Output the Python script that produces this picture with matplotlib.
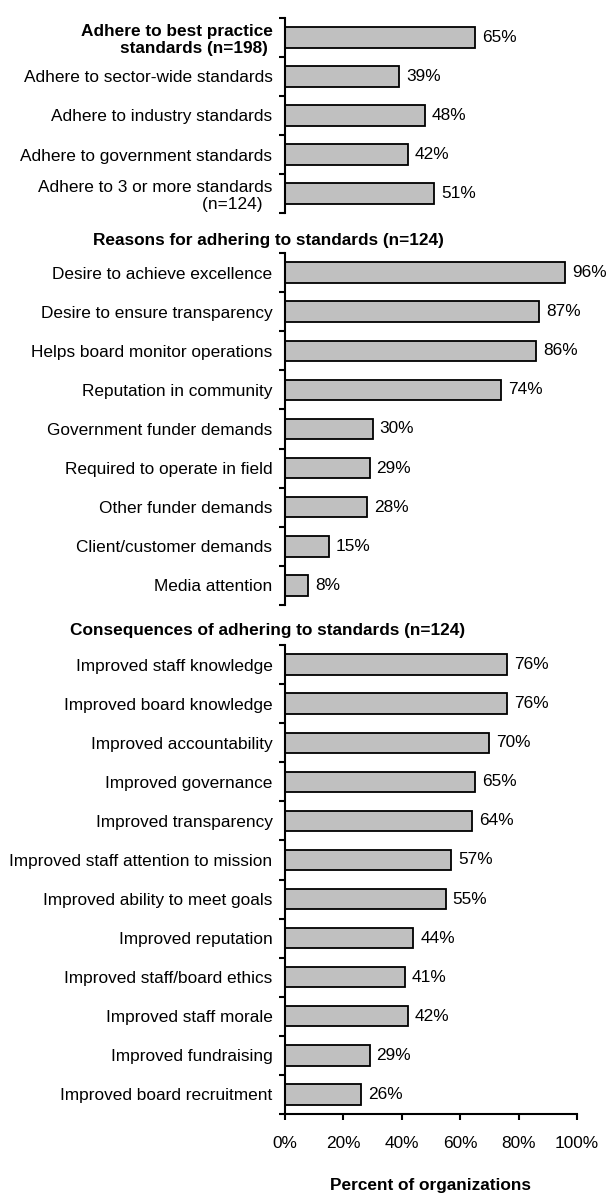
import numpy as np
import matplotlib.pyplot as plt
from matplotlib.ticker import FuncFormatter

plt.rcParams['font.family'] = ['Liberation Sans', 'DejaVu Sans']

adhere_labels = ["Adhere to best practice\nstandards (n=198) ",
                 "Adhere to sector-wide standards",
                 "Adhere to industry standards",
                 "Adhere to government standards",
                 "Adhere to 3 or more standards\n(n=124)  "]
adhere_values = [65, 39, 48, 42, 51]

reason_labels = ["Desire to achieve excellence",
                 "Desire to ensure transparency",
                 "Helps board monitor operations",
                 "Reputation in community",
                 "Government funder demands",
                 "Required to operate in field",
                 "Other funder demands",
                 "Client/customer demands",
                 "Media attention"]
reason_values = [96, 87, 86, 74, 30, 29, 28, 15, 8]

conseq_labels = ["Improved staff knowledge",
                 "Improved board knowledge",
                 "Improved accountability",
                 "Improved governance",
                 "Improved transparency",
                 "Improved staff attention to mission",
                 "Improved ability to meet goals",
                 "Improved reputation",
                 "Improved staff/board ethics",
                 "Improved staff morale",
                 "Improved fundraising",
                 "Improved board recruitment"]
conseq_values = [76, 76, 70, 65, 64, 57, 55, 44, 41, 42, 29, 26]

x_ticks = [0, 20, 40, 60, 80, 100]

W, H = 610, 1194
fs = 12.4
fig = plt.figure(figsize=(W / 100, H / 100), dpi=100)

left = 285 / W
width = 292 / W


def make_panel(top_px, bot_px, labels, values, last=False, bold_first=False):
    ax = fig.add_axes([left, 1 - bot_px / H, width, (bot_px - top_px) / H])
    n = len(values)
    y = np.arange(n)
    bars = ax.barh(y, values, height=0.52, color="#c0c0c0", edgecolor="black", linewidth=1.3)
    ax.bar_label(bars, labels=[f"{v}%" for v in values], padding=5, fontsize=fs)
    ax.set_ylim(n - 0.5, -0.5)
    ax.set_xlim(0, 100)
    ax.set_yticks(y)
    ax.set_yticklabels(labels, fontsize=fs)
    ax.set_yticks(np.arange(-0.5, n), minor=True)
    ax.tick_params(axis="y", which="major", length=0, pad=9)
    ax.tick_params(axis="y", which="minor", length=4, width=1.5)
    for s in ["top", "right"]:
        ax.spines[s].set_visible(False)
    ax.spines["left"].set_linewidth(1.5)
    if bold_first:
        ax.get_yticklabels()[0].set_fontweight("bold")
    if last:
        ax.set_xticks(x_ticks)
        ax.xaxis.set_major_formatter(FuncFormatter(lambda v, p: f"{v:.0f}%"))
        ax.tick_params(axis="x", length=4, width=1.5, labelsize=fs, pad=12)
        ax.spines["bottom"].set_linewidth(1.5)
        ax.set_xlabel("Percent of organizations", fontsize=fs, fontweight="bold", labelpad=19)
    else:
        ax.spines["bottom"].set_visible(False)
        ax.set_xticks([])
    return ax


make_panel(18, 213, adhere_labels, adhere_values, bold_first=True)
make_panel(253, 605, reason_labels, reason_values)
make_panel(645, 1114, conseq_labels, conseq_values, last=True)

fig.text(268 / W, 1 - 240 / H, "Reasons for adhering to standards (n=124)",
         ha="center", va="center", fontsize=fs, fontweight="bold")
fig.text(268 / W, 1 - 630 / H, "Consequences of adhering to standards (n=124)",
         ha="center", va="center", fontsize=fs, fontweight="bold")

fig.savefig("out.png", dpi=100)
